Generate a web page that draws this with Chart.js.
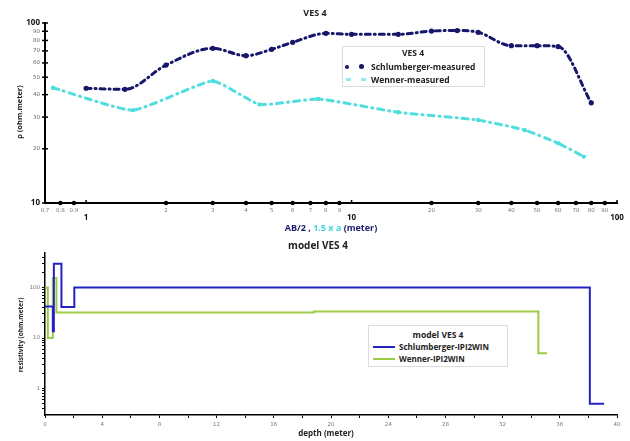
<!DOCTYPE html>
<html lang="en">
<head>
  <meta charset="UTF-8"/>
  <title>VES 4</title>
  <style>
    * { box-sizing: border-box; }
    body { margin: 0; background: #fff; font-family: "Open Sans", sans-serif; }
    .wrap { position: relative; width: 630px; height: 441px; overflow: hidden; background: #fff; }
    .box { position: absolute; left: 0; width: 630px; }
    #top-box { top: 0; height: 240px; }
    #bot-box { top: 240px; height: 201px; }
    .txt { position: absolute; white-space: nowrap; font-weight: 700; color: #222;
           transform: translate(-50%, -50%); line-height: 1; }
    .rot { transform: translate(-50%, -50%) rotate(-90deg); }
    .lft { transform: translate(0, -50%); }
    .legend { position: absolute; background: #fff; border: 1px solid #dcdcdc; }
    .mark { position: absolute; }
  </style>
  <script src="https://cdn.jsdelivr.net/npm/chart.js"></script>
</head>
<body>
<div class="wrap">
  <div class="box" id="top-box"><canvas id="ves" width="630" height="240"></canvas></div>
  <div class="box" id="bot-box"><canvas id="model" width="630" height="201"></canvas></div>

  <!-- top chart texts -->
  <div class="txt" style="left:315px;top:12px;font-size:9px;">VES 4</div>
  <div class="txt rot" style="left:20px;top:112px;font-size:7.5px;">ρ (ohm.meter)</div>
  <div class="txt" style="left:331px;top:227px;font-size:9px;color:#1c1c6c;">AB/2 , <span style="color:#3fd8e0">1.5 x a</span> (meter)</div>

  <div class="legend" style="left:342px;top:46px;width:143px;height:41px;"></div>
  <div class="txt" style="left:413px;top:53px;font-size:8.5px;">VES 4</div>
  <div class="mark" style="left:345px;top:65px;width:4px;height:4px;border-radius:50%;background:#16166a;"></div>
  <div class="mark" style="left:359px;top:64px;width:5px;height:5px;border-radius:50%;background:#16166a;"></div>
  <div class="txt lft" style="left:371px;top:66.5px;font-size:8.5px;">Schlumberger-measured</div>
  <div class="mark" style="left:346px;top:78px;width:5px;height:3px;background:#8fe9ee;"></div>
  <div class="mark" style="left:361px;top:78px;width:5px;height:3px;background:#8fe9ee;"></div>
  <div class="txt lft" style="left:371px;top:79.5px;font-size:8.5px;">Wenner-measured</div>

  <!-- bottom chart texts -->
  <div class="txt" style="left:318px;top:245px;font-size:10px;">model VES 4</div>
  <div class="txt rot" style="left:21px;top:335px;font-size:6.5px;">resistivity (ohm.meter)</div>
  <div class="txt" style="left:326px;top:433px;font-size:8px;">depth (meter)</div>

  <div class="legend" style="left:368px;top:325px;width:140px;height:42px;"></div>
  <div class="txt" style="left:438px;top:334.5px;font-size:8.5px;">model VES 4</div>
  <div class="mark" style="left:373px;top:346px;width:22px;height:2px;background:#2323c3;"></div>
  <div class="txt lft" style="left:399px;top:347px;font-size:8px;">Schlumberger-IPI2WIN</div>
  <div class="mark" style="left:373px;top:358px;width:22px;height:2px;background:#9ccc45;"></div>
  <div class="txt lft" style="left:399px;top:359px;font-size:8px;">Wenner-IPI2WIN</div>
</div>

<script>
  // ---- measured curves (AB/2 or 1.5a in m, apparent resistivity in ohm.m)
  const schAB  = [1, 1.4, 2, 3, 4, 5, 6, 8, 10, 15, 20, 25, 30, 40, 50, 60, 80];
  const schRho = [43.4, 42.8, 58.4, 72.3, 65.8, 71.4, 78.1, 87.6, 86.5, 86.5, 90.2, 90.8, 88.8, 74.8, 74.8, 74, 36];
  const wenAB  = [0.75, 1.5, 3, 4.5, 7.5, 15, 30, 45, 60, 75];
  const wenRho = [43.7, 32.8, 47.6, 35.3, 37.8, 31.9, 28.9, 25.4, 21.5, 18.1];

  const xTicksTop = [0.7, 0.8, 0.9, 1, 2, 3, 4, 5, 6, 7, 8, 9, 10, 20, 30, 40, 50, 60, 70, 80, 90, 100];
  const yTicksTop = [10, 20, 30, 40, 50, 60, 70, 80, 90, 100];
  const decades   = [1, 10, 100];

  // ---- inverted layer models (top depth in m, resistivity in ohm.m)
  const schTop = [0, 0.55, 0.62, 1.15, 2.05, 38.1];
  const schRes = [42, 13.6, 293, 41, 100, 0.5];
  const schEnd = 39.1;
  const wenTop = [0, 0.2, 0.55, 0.8, 18.8, 34.5];
  const wenRes = [100, 10, 153, 32, 33.5, 5];
  const wenEnd = 35.1;

  const yTicksBot = [0.4, 0.5, 0.6, 0.7, 0.8, 0.9, 1, 2, 3, 4, 5, 6, 7, 8, 9,
                     10, 20, 30, 40, 50, 60, 70, 80, 90, 100, 200, 300, 400];
  const yLabelsBot = [1, 10, 100];

  const NAVY = '#16166a', CYAN = '#4fdede', BLUE = '#2323c3', GREEN = '#9ccc45';
  const tickFont = 'DejaVu Sans';

  const pts = (xs, ys) => xs.map((x, i) => ({x, y: ys[i]}));
  function layerPoints(tops, res, end) {
    const p = tops.map((d, i) => ({x: d, y: res[i]}));
    p.push({x: end, y: res[res.length - 1]});
    return p;
  }

  // dots / crosses on the axes of the top chart
  const axisMarks = {
    id: 'axisMarks',
    afterDraw(chart) {
      const {ctx, scales: {x, y}} = chart;
      ctx.save();
      ctx.fillStyle = '#000'; ctx.strokeStyle = '#000'; ctx.lineWidth = 1.5;
      x.ticks.forEach((t, i) => {
        const px = x.getPixelForValue(t.value);
        if (decades.includes(t.value)) {
          ctx.beginPath(); ctx.moveTo(px, x.top - 3); ctx.lineTo(px, x.top + 1); ctx.stroke();
        } else if (i > 0) {
          ctx.beginPath(); ctx.arc(px, x.top, 2.2, 0, Math.PI * 2); ctx.fill();
        }
      });
      y.ticks.forEach(t => {
        const py = y.getPixelForValue(t.value);
        ctx.beginPath(); ctx.moveTo(y.right - 3, py); ctx.lineTo(y.right + 3, py); ctx.stroke();
      });
      ctx.restore();
    }
  };

  new Chart(document.getElementById('ves'), {
    type: 'line',
    data: {
      datasets: [
        { label: 'Schlumberger-measured', data: pts(schAB, schRho),
          borderColor: NAVY, backgroundColor: NAVY, borderWidth: 3,
          borderDash: [5, 4, 1, 4], borderCapStyle: 'round',
          pointRadius: 2.6, pointBorderWidth: 0, cubicInterpolationMode: 'monotone' },
        { label: 'Wenner-measured', data: pts(wenAB, wenRho),
          borderColor: CYAN, backgroundColor: CYAN, borderWidth: 3,
          borderDash: [6, 5, 1, 5], borderCapStyle: 'round',
          pointRadius: 2.2, pointBorderWidth: 0, tension: 0.15 }
      ]
    },
    options: {
      responsive: false, animation: false,
      layout: { padding: { top: 23, right: 13, left: 0, bottom: 0 } },
      scales: {
        x: {
          type: 'logarithmic', min: 0.7, max: 100,
          afterBuildTicks: s => { s.ticks = xTicksTop.map(v => ({value: v})); },
          afterFit: s => { s.height = 37; },
          border: { color: '#000', width: 2 },
          grid: { display: false, drawTicks: false },
          ticks: {
            autoSkip: false, maxRotation: 0, padding: 4,
            callback: v => decades.includes(v) ? ['', String(v)] : String(v),
            font: c => decades.includes(c.tick.value)
              ? { family: 'Open Sans', size: 8, weight: 'bold', lineHeight: 0.92 }
              : { family: tickFont, size: 5.5, lineHeight: 1.2 },
            color: c => decades.includes(c.tick.value) ? '#111' : '#777'
          }
        },
        y: {
          type: 'logarithmic', min: 10, max: 100,
          afterBuildTicks: s => { s.ticks = yTicksTop.map(v => ({value: v})); },
          afterFit: s => { s.width = 45; },
          border: { color: '#000', width: 2 },
          grid: { display: false, drawTicks: false },
          ticks: {
            autoSkip: false, padding: 5,
            callback: v => String(v),
            font: c => (c.tick.value === 10 || c.tick.value === 100)
              ? { family: 'Open Sans', size: 8, weight: 'bold' }
              : { family: tickFont, size: 5.5 },
            color: c => (c.tick.value === 10 || c.tick.value === 100) ? '#111' : '#666'
          }
        }
      },
      plugins: { legend: { display: false }, tooltip: { enabled: false } }
    },
    plugins: [axisMarks]
  });

  new Chart(document.getElementById('model'), {
    type: 'line',
    data: {
      datasets: [
        { label: 'Schlumberger-IPI2WIN', data: layerPoints(schTop, schRes, schEnd),
          borderColor: BLUE, borderWidth: 2, pointRadius: 0, stepped: true },
        { label: 'Wenner-IPI2WIN', data: layerPoints(wenTop, wenRes, wenEnd),
          borderColor: GREEN, borderWidth: 2, pointRadius: 0, stepped: true }
      ]
    },
    options: {
      responsive: false, animation: false,
      layout: { padding: { top: 13, right: 13, left: 0, bottom: 0 } },
      scales: {
        x: {
          type: 'linear', min: 0, max: 40,
          afterFit: s => { s.height = 26; },
          border: { color: '#000', width: 1.5 },
          grid: { drawOnChartArea: false, drawTicks: true, tickLength: 3, color: '#000' },
          ticks: {
            stepSize: 2, autoSkip: false, maxRotation: 0, padding: 3,
            callback: v => v % 4 === 0 ? String(v) : '',
            font: { family: tickFont, size: 5.5 }, color: '#777'
          }
        },
        y: {
          type: 'logarithmic', min: 0.32, max: 480,
          afterBuildTicks: s => { s.ticks = yTicksBot.map(v => ({value: v})); },
          afterFit: s => { s.width = 45; },
          border: { color: '#000', width: 1.5 },
          grid: { drawOnChartArea: false, drawTicks: true, tickLength: 3, color: '#000' },
          ticks: {
            autoSkip: false, padding: 2,
            callback: v => yLabelsBot.includes(v) ? String(v) : '',
            font: { family: tickFont, size: 5.5 }, color: '#777'
          }
        }
      },
      plugins: { legend: { display: false }, tooltip: { enabled: false } }
    }
  });
</script>
</body>
</html>
